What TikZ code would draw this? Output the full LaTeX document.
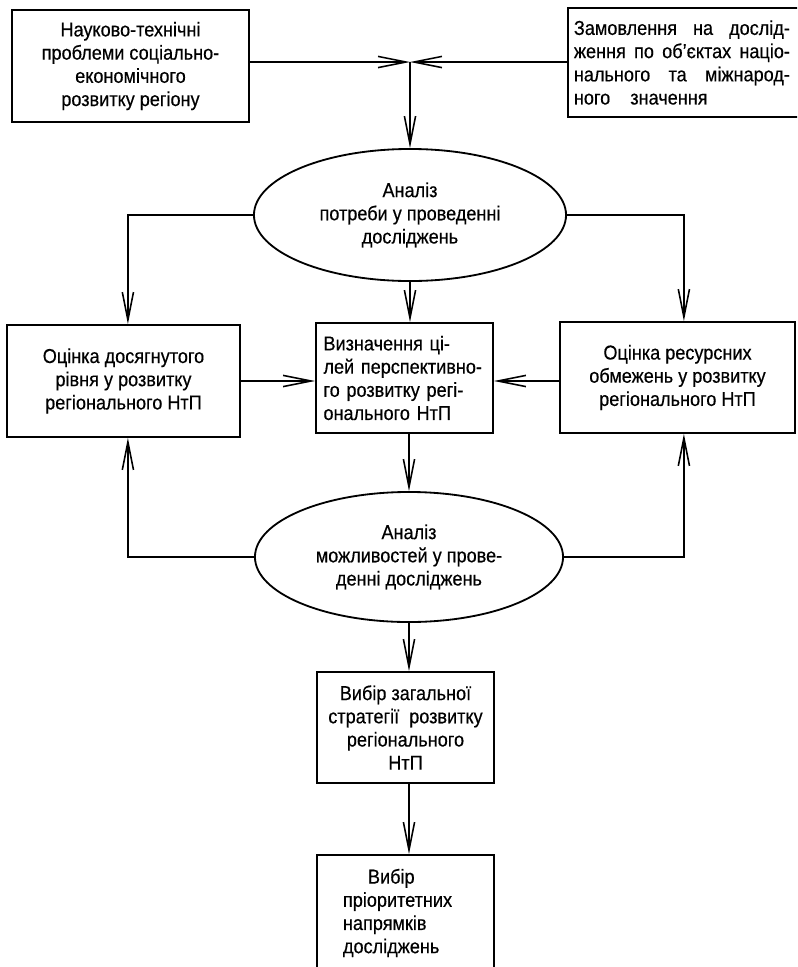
\documentclass[tikz,border=0pt]{standalone}
\usepackage{fontspec}
\setmainfont{Liberation Sans}[FakeStretch=0.9, FakeBold=0.4]
\usetikzlibrary{shapes.geometric, arrows.meta, positioning}

\tikzset{
  block/.style={rectangle, draw=black, line width=1.3pt, fill=white, inner sep=0pt, align=center, font=\fontsize{14.3}{16.5}\selectfont},
  oval/.style={ellipse, draw=black, line width=1.3pt, fill=white, inner sep=0pt, align=center, font=\fontsize{14.3}{16.5}\selectfont},
  link/.style={draw=black, line width=1.1pt},
  arr/.style={link, -{Straight Barb[length=0.7cm, width=0.28cm]}},
}

\begin{document}
\begin{tikzpicture}[x=0.025cm, y=-0.025cm]
\useasboundingbox (0,0) rectangle (797,967);
\fill[white] (0,0) rectangle (797,967);
\clip (0,0) rectangle (797,967);

% Top boxes
\node[block, minimum width=5.925cm, minimum height=2.8cm] (probl) at (130.5,66) {Науково-технічні\\проблеми соціально-\\економічного\\розвитку регіону};
\node[block, anchor=west, minimum width=6.125cm, minimum height=2.725cm, text width=5.825cm, align=left] (zamov) at (567,62.5) {%
    \makebox[5.4cm]{Замовлення\hfill на\hfill дослід-}\\
    \makebox[5.4cm]{ження\hfill по\hfill об'єктах\hfill націо-}\\
    \makebox[5.4cm]{нального\hfill та\hfill міжнарод-}\\
    ного\quad значення};
\coordinate (meet) at (410,62);

% First analysis
\node[oval, minimum width=7.8cm, minimum height=3.3cm] (potreba) at (410,215) {Аналіз\\потреби у проведенні\\досліджень};

% Middle row
\node[block, minimum width=5.825cm, minimum height=2.8cm] (riven) at (123.5,381) {Оцінка досягнутого\\рівня у розвитку\\регіонального НтП};
\node[block, minimum width=4.425cm, minimum height=2.75cm, text width=4.05cm, align=left] (cili) at (404.5,378) {Визначення ці-\\лей перспективно-\\го розвитку регі-\\онального НтП};
\node[block, minimum width=5.875cm, minimum height=2.775cm] (resurs) at (677.5,377.5) {Оцінка ресурсних\\обмежень у розвитку\\регіонального НтП};

% Second analysis
\node[oval, minimum width=7.7cm, minimum height=3.25cm] (mozhl) at (409,557) {Аналіз\\можливостей у прове-\\денні досліджень};

% Bottom boxes
\node[block, minimum width=4.425cm, minimum height=2.775cm] (strat) at (405.5,727.5) {Вибір загальної\\стратегії\ \ розвитку\\регіонального\\НтП};
\node[block, minimum width=4.425cm, minimum height=2.9cm, text width=3.125cm, align=left] (prior) at (405.5,913) {\hspace*{0.625cm}Вибір\\пріоритетних\\напрямків\\досліджень};

% Arrows
\draw[arr] (probl.east |- meet) -- (meet);
\draw[arr] (zamov.west |- meet) -- (meet);
\draw[arr] (meet) -- (potreba.north);
\draw[arr] (potreba.west) -| ([xshift=0.11cm]riven.north);
\draw[arr] (potreba.south) -- (potreba.south |- cili.north);
\draw[arr] (potreba.east) -| ([xshift=0.16cm]resurs.north);
\draw[arr] (riven.east) -- (riven.east -| cili.west);
\draw[arr] (resurs.west |- riven.east) -- (cili.east |- riven.east);
\draw[arr] (cili.south -| mozhl.north) -- (mozhl.north);
\draw[arr] (mozhl.west) -| ([xshift=0.11cm]riven.south);
\draw[arr] (mozhl.east) -| ([xshift=0.16cm]resurs.south);
\draw[arr] (mozhl.south) -- (mozhl.south |- strat.north);
\draw[arr] (strat.south -| mozhl.south) -- (prior.north -| mozhl.south);
\end{tikzpicture}
\end{document}
